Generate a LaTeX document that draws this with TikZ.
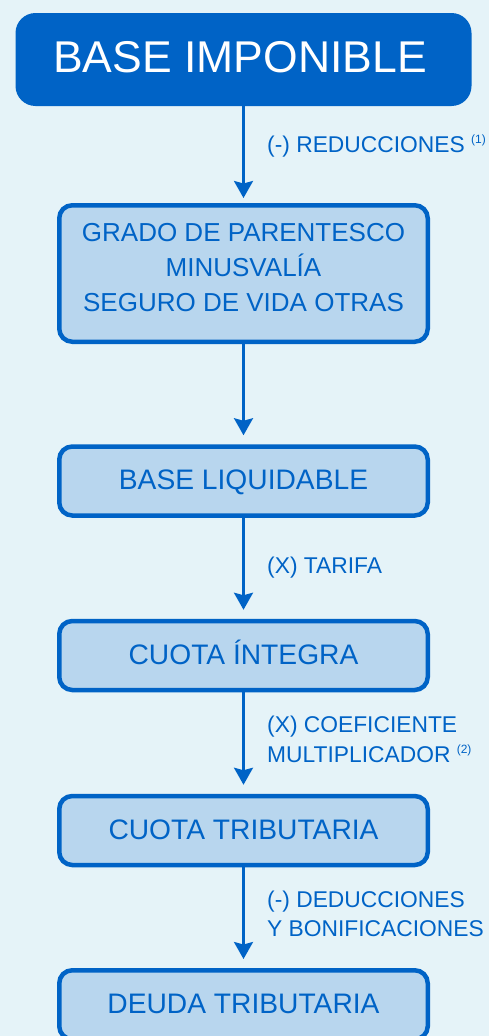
\documentclass[tikz,border=0pt]{standalone}
\usepackage{fontspec}
\setmainfont{Liberation Sans}
\usetikzlibrary{arrows.meta}
\definecolor{dblue}{RGB}{0,99,198}
\definecolor{lblue}{RGB}{184,214,238}
\definecolor{bgblue}{RGB}{229,243,248}
\begin{document}
\begin{tikzpicture}[x=1pt,y=-1pt,
  topbox/.style={fill=dblue, rounded corners=20pt, minimum width=456pt, minimum height=93pt,
    outer sep=0pt, inner sep=0pt, text=white, font=\fontsize{44.5}{50}\selectfont,
    text height=32pt, text depth=6pt},
  stagebox/.style={draw=dblue, line width=4.5pt, fill=lblue, rounded corners=13pt,
    minimum width=368.5pt, minimum height=69pt, inner sep=0pt, text=dblue},
  oneline/.style={font=\fontsize{28.2}{33}\selectfont, text height=20.2pt, text depth=3pt},
  flow/.style={draw=dblue, line width=2.6pt, -{Stealth[length=17pt,width=19pt,inset=2.5pt]},
    shorten >=9pt},
  note/.style={text=dblue, font=\fontsize{22.8}{30}\selectfont, anchor=base west, inner sep=0pt},
]
\useasboundingbox (0,0) rectangle (489,1036);
\fill[bgblue] (0,0) rectangle (489,1036);
\clip (0,0) rectangle (489,1036);

\newcommand{\supnum}[1]{\raisebox{8.5pt}{\fontsize{12}{12}\selectfont #1}}

\node[topbox] (top) at (243.5,59.5) {\hspace*{-7pt}BASE IMPONIBLE};
\node[stagebox, minimum height=136.5pt, align=center, font=\fontsize{26}{35}\selectfont] (b2) at (243.5,273.5)
  {GRADO DE PARENTESCO\\MINUSVALÍA\\SEGURO DE VIDA OTRAS\rule[-12pt]{0pt}{12pt}};
\node[stagebox, oneline] (b3) at (243.5,481) {BASE LIQUIDABLE};
\node[stagebox, oneline] (b4) at (243.5,655.5) {CUOTA ÍNTEGRA};
\node[stagebox, oneline] (b5) at (243.5,830.5) {CUOTA TRIBUTARIA};
\node[stagebox, oneline] (b6) at (243.5,1004.75) {DEUDA TRIBUTARIA};

\draw[flow, shorten >=5pt] (top) -- (b2);
\draw[flow] (b2) -- (b3);
\draw[flow] (b3) -- (b4);
\draw[flow] (b4) -- (b5);
\draw[flow] (b5) -- (b6);

\node[note] (l1) at (267,152) {(-) REDUCCIONES \supnum{(1)}};
\node[note] (l2) at (267,573) {(X) TARIFA};
\node[note] (l3a) at (267,732) {(X) COEFICIENTE};
\node[note] (l3b) at (267,762) {MULTIPLICADOR \supnum{(2)}};
\node[note] (l4a) at (267,907) {(-) DEDUCCIONES};
\node[note] (l4b) at (267,936) {Y BONIFICACIONES};
\end{tikzpicture}
\end{document}
